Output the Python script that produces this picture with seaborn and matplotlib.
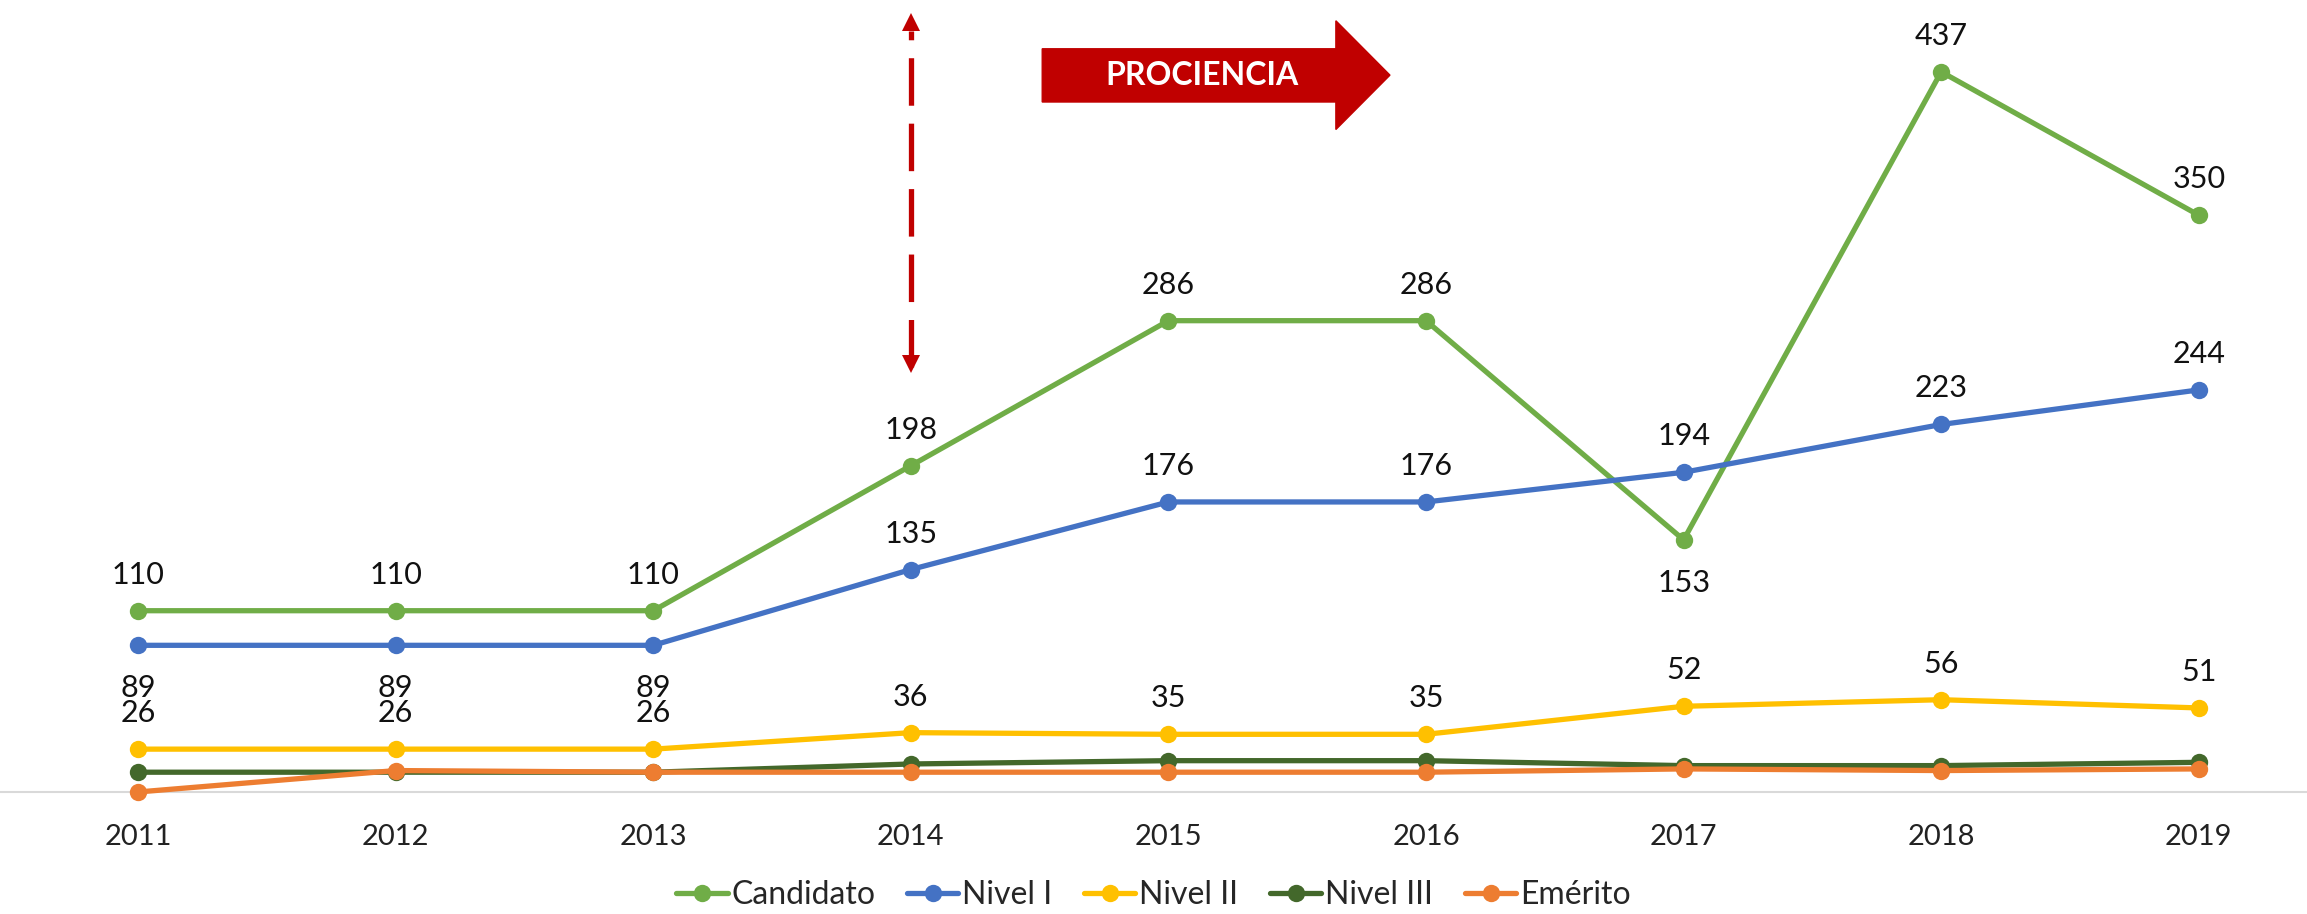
import pandas as pd
import matplotlib.pyplot as plt
import seaborn as sns
from matplotlib.lines import Line2D

years = ["2011", "2012", "2013", "2014", "2015", "2016", "2017", "2018", "2019"]
candidato = [110, 110, 110, 198, 286, 286, 153, 437, 350]
nivel_1 = [89, 89, 89, 135, 176, 176, 194, 223, 244]
nivel_2 = [26, 26, 26, 36, 35, 35, 52, 56, 51]
nivel_3 = [12, 12, 12, 17, 19, 19, 16, 16, 18]
emerito = [0, 13, 12, 12, 12, 12, 14, 13, 14]

series = {
    "Candidato": candidato,
    "Nivel I": nivel_1,
    "Nivel II": nivel_2,
    "Nivel III": nivel_3,
    "Emérito": emerito,
}
colors = {
    "Candidato": "#70AD47",
    "Nivel I": "#4472C4",
    "Nivel II": "#FFC000",
    "Nivel III": "#43682B",
    "Emérito": "#ED7D31",
}
# which series get value labels, and which labels sit under the point
labelled = ["Candidato", "Nivel I", "Nivel II"]
below = {("Candidato", 6), ("Nivel I", 0), ("Nivel I", 1), ("Nivel I", 2)}

rows = []
for name, vals in series.items():
    for i, v in enumerate(vals):
        rows.append({"serie": name, "pos": i, "valor": v})
df = pd.DataFrame(rows)

sns.set_style("white")
plt.rcParams["font.family"] = ["Lato", "DejaVu Sans"]

fig = plt.figure(figsize=(23.07, 9.14), dpi=100)
ax = fig.add_axes([0, 0.1335, 1, 0.8665])

for name in series:
    sub = df[df["serie"] == name]
    sns.lineplot(data=sub, x="pos", y="valor", ax=ax, color=colors[name],
                 linewidth=3.8, marker="o", markersize=12.5, markeredgewidth=0,
                 label=name, legend=False)
for line in ax.lines:
    line.set_clip_on(False)

for name in labelled:
    for i, v in enumerate(series[name]):
        dy = -43 if (name, i) in below else 36
        ax.annotate(str(v), (i, v), xytext=(0, dy), textcoords="offset pixels",
                    ha="center", va="center", fontsize=22, color="#111111")

ax.set_xlim(-0.536, 8.42)
ax.set_ylim(0, 480.6)
ax.set_xticks(range(len(years)))
ax.set_xticklabels(years, fontsize=21, color="#222222")
ax.set_yticks([])
ax.set_xlabel("")
ax.set_ylabel("")
ax.tick_params(axis="x", length=0, pad=23)
for s in ["top", "right", "left"]:
    ax.spines[s].set_visible(False)
ax.spines["bottom"].set_color("#D9D9D9")
ax.spines["bottom"].set_linewidth(1.5)
ax.spines["bottom"].set_zorder(0.5)

# dashed double arrow at 2014
red = "#C00000"
ax.plot([3.0, 3.0], [258, 462], color=red, linewidth=3.8,
        linestyle=(0, (9.0, 3.4)), solid_capstyle="butt")
ax.plot([3.0], [467], marker="^", color=red, markersize=13, markeredgewidth=0)
ax.plot([3.0], [260], marker="v", color=red, markersize=13, markeredgewidth=0)

# PROCIENCIA block arrow
ax.fill([3.51, 4.65, 4.65, 4.86, 4.65, 4.65, 3.51],
        [451, 451, 468, 435, 402, 418.7, 418.7], color=red, zorder=5)
ax.text(4.13, 434.5, "PROCIENCIA", ha="center", va="center", fontsize=23,
        fontweight="bold", color="white", zorder=6)

handles = [Line2D([0], [0], color=colors[n], linewidth=3.8, marker="o",
                  markersize=12.5, markeredgewidth=0) for n in series]
fig.legend(handles, list(series), loc="center", bbox_to_anchor=(0.5, 0.021),
           ncol=5, frameon=False, fontsize=23, handlelength=1.6,
           handletextpad=0.12, columnspacing=1.0)

fig.savefig("out.png", dpi=100)
plt.close(fig)
